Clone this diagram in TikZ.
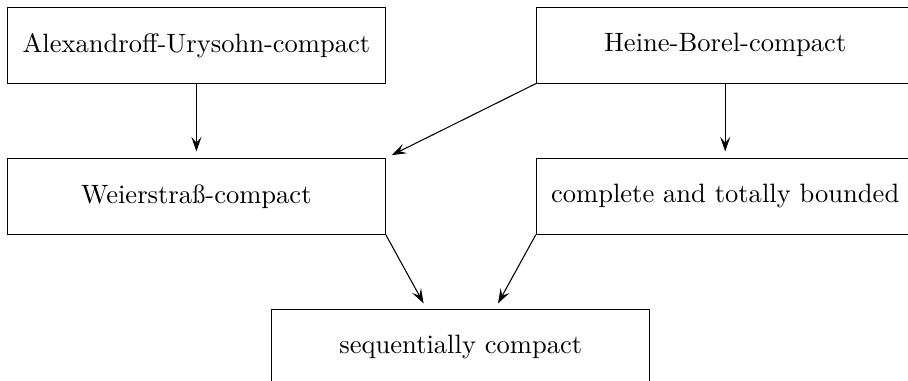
\documentclass[tikz,border=0pt]{standalone}
\usetikzlibrary{arrows.meta}
\begin{document}
\begin{tikzpicture}[
  box/.style={draw, minimum width=5cm, minimum height=1cm},
  imp/.style={-{Stealth[length=5.5pt,width=3.8pt,inset=2.2pt]}, shorten >=2.5pt}]
  % notions of compactness
  \useasboundingbox (-2.6,-4.44) rectangle (9.42,0.6);
  \node[box] (au) at (0,0) {Alexandroff-Urysohn-compact};
  \node[box] (hb) at (7,0) {Heine-Borel-compact};
  \node[box] (ws) at (0,-2) {Weierstraß-compact};
  \node[box] (ctb) at (7,-2) {complete and totally bounded};
  \node[box] (sc) at (3.5,-4) {sequentially compact};
  \draw[imp] (au) -- (ws);
  \draw[imp] (hb.south west) -- (ws.north east);
  \draw[imp] (hb) -- (ctb);
  \draw[imp] (ws.south east) -- ([xshift=-0.45cm]sc.north);
  \draw[imp] (ctb.south west) -- ([xshift=0.45cm]sc.north);
\end{tikzpicture}
\end{document}
